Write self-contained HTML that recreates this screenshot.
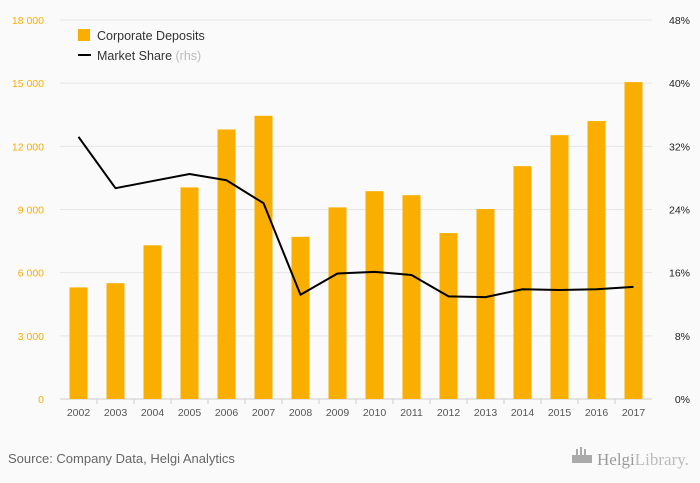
<!DOCTYPE html>
<html><head><meta charset="utf-8">
<style>
html,body{margin:0;padding:0;background:#fafafa;}
body{width:700px;height:483px;overflow:hidden;font-family:"Liberation Sans",sans-serif;}
</style></head>
<body>
<svg id="chart" width="700" height="483" xmlns="http://www.w3.org/2000/svg" style="display:block">
<rect x="0" y="0" width="700" height="483" fill="#fafafa"/>
<g id="grid"></g><g id="bars"></g><g id="line"></g><g id="axes"></g>
<g>
<rect x="78" y="29" width="12" height="12" fill="#f9ae00"/>
<text x="97" y="40" font-size="12.5" fill="#333">Corporate Deposits</text>
<line x1="78" y1="55" x2="91" y2="55" stroke="#000" stroke-width="2"/>
<text x="97" y="60" font-size="12.5" fill="#333">Market Share <tspan fill="#bbb">(rhs)</tspan></text>
</g>
<text x="8" y="463" font-size="13" fill="#666">Source: Company Data, Helgi Analytics</text>
<text x="597" y="465" font-size="17" fill="#999" font-family="Liberation Serif, serif">Helgi<tspan fill="#bbb">Library.</tspan></text>
<g fill="#aaa"><rect x="572" y="455" width="20" height="8"/><rect x="576" y="449" width="2" height="6"/><rect x="580" y="447" width="2" height="8"/><rect x="584" y="449" width="2" height="6"/></g>
</svg>
<script>
const years=["2002","2003","2004","2005","2006","2007","2008","2009","2010","2011","2012","2013","2014","2015","2016","2017"];
const deposits=[5300,5500,7300,10050,12800,13450,7700,9100,9870,9680,7880,9020,11060,12530,13200,15050];
const share=[33.2,26.7,27.6,28.5,27.7,24.8,13.2,15.9,16.1,15.7,13.0,12.9,13.9,13.8,13.9,14.2];
const leftTicks=[0,3000,6000,9000,12000,15000,18000];
const leftLabels=["0","3 000","6 000","9 000","12 000","15 000","18 000"];
const rightTicks=[0,8,16,24,32,40,48];
const rightLabels=["0%","8%","16%","24%","32%","40%","48%"];
const NS="http://www.w3.org/2000/svg";
const x0=60,x1=652,yTop=20,yBot=399;
const yL=v=>yBot-(v/18000)*(yBot-yTop);
const yR=v=>yBot-(v/48)*(yBot-yTop);
const step=(x1-x0)/years.length;
const xc=i=>x0+step*(i+0.5);
function mk(tag,attrs,parent){const e=document.createElementNS(NS,tag);for(const k in attrs)e.setAttribute(k,attrs[k]);document.getElementById(parent).appendChild(e);return e;}
leftTicks.forEach((t,i)=>{
  const g=mk("line",{x1:x0,x2:x1,y1:yL(t),y2:yL(t),stroke:i===0?"#ccc":"#e6e6e6","stroke-width":1},"grid");
  
  
  const l=mk("text",{x:44,y:yL(t)+4,"text-anchor":"end","font-size":"10.5",fill:"#f9ae00"},"axes");
  l.textContent=leftLabels[i];
  
  
});
rightTicks.forEach((t,i)=>{
  const l=mk("text",{x:690,y:yR(t)+4,"text-anchor":"end","font-size":"10.5",fill:"#222"},"axes");
  l.textContent=rightLabels[i];
  
  
});
years.forEach((y,i)=>{
  const b=mk("rect",{x:xc(i)-9,y:yL(deposits[i]),width:18,height:yBot-yL(deposits[i]),fill:"#f9ae00"},"bars");
  
  
  const l=mk("text",{x:xc(i),y:416,"text-anchor":"middle","font-size":"10.5",fill:"#555"},"axes");
  l.textContent=y;
  
  
  if(i>0){const s=mk("line",{x1:x0+step*i,x2:x0+step*i,y1:yBot,y2:yBot+5,stroke:"#ccc"},"axes");
  
  }
});
const p=mk("polyline",{points:share.map((v,i)=>xc(i)+","+yR(v)).join(" "),fill:"none",stroke:"#000","stroke-width":2,"stroke-linejoin":"round"},"line");


</script>
</body></html>
